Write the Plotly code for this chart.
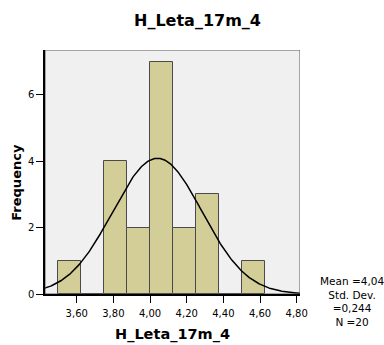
import numpy as np
import plotly.graph_objects as go

# Histogram bins (lower edges) and counts
bin_start = [3.500, 3.625, 3.750, 3.875, 4.000, 4.125, 4.250, 4.375, 4.500]
counts = [1, 0, 4, 2, 7, 2, 3, 0, 1]
bin_width = 0.125

# Summary statistics
mean = 4.04
std_dev = 0.244
n_obs = 20

x_ticks = [3.6, 3.8, 4.0, 4.2, 4.4, 4.6, 4.8]
x_tick_labels = ["3,60", "3,80", "4,00", "4,20", "4,40", "4,60", "4,80"]
y_ticks = [0, 2, 4, 6]
y_tick_labels = ["0", "2", "4", "6"]

variable_name = "H_Leta_17m_4"

centers = [b + bin_width / 2 for b in bin_start]

# Normal curve scaled to the histogram counts
xs = np.linspace(3.40, 4.84, 300)
ys = n_obs * bin_width / (std_dev * np.sqrt(2 * np.pi)) * np.exp(-0.5 * ((xs - mean) / std_dev) ** 2)

font = "DejaVu Sans, Verdana, sans-serif"

fig = go.Figure()
fig.add_trace(go.Bar(
    x=centers, y=counts, width=bin_width,
    marker=dict(color="#D3CE98", line=dict(color="#4A4A4A", width=1)),
    hoverinfo="skip",
))
fig.add_trace(go.Scatter(
    x=xs, y=ys, mode="lines",
    line=dict(color="black", width=1.5),
    hoverinfo="skip",
))

x_range = [3.427, 4.818]
y_range = [0, 7.35]

# Frame around the plot area
fig.add_shape(type="rect", xref="x", yref="y",
              x0=x_range[0], x1=x_range[1], y0=y_range[0], y1=y_range[1],
              line=dict(color="#5A5A5A", width=1), layer="above")

fig.update_layout(
    width=384, height=345,
    margin=dict(l=45, r=84, t=50, b=51),
    paper_bgcolor="white",
    plot_bgcolor="#F0F0F0",
    showlegend=False,
    bargap=0,
    font=dict(family=font, color="black", size=10),
)

fig.update_xaxes(
    range=x_range, tickvals=x_ticks, ticktext=x_tick_labels,
    showgrid=False, zeroline=False,
    showline=True, linecolor="black", linewidth=1.5,
    ticks="outside", ticklen=7, tickcolor="black", tickwidth=1,
    ticklabelstandoff=2,
    tickfont=dict(size=10, family=font),
)
fig.update_yaxes(
    range=y_range, tickvals=y_ticks, ticktext=y_tick_labels,
    showgrid=False, zeroline=False,
    showline=True, linecolor="black", linewidth=1.5,
    ticks="outside", ticklen=7, tickcolor="black", tickwidth=1,
    tickfont=dict(size=10, family=font),
)

# Chart title and axis titles
fig.add_annotation(text=f"<b>{variable_name}</b>", xref="paper", yref="paper",
                   x=0.598, y=1.119, xanchor="center", yanchor="middle",
                   showarrow=False, font=dict(size=16, family=font))
fig.add_annotation(text=f"<b>{variable_name}</b>", xref="paper", yref="paper",
                   x=0.5, y=-0.168, xanchor="center", yanchor="middle",
                   showarrow=False, font=dict(size=14.5, family=font))
fig.add_annotation(text="<b>Frequency</b>", xref="paper", yref="paper",
                   x=-0.11, y=0.46, xanchor="center", yanchor="middle",
                   textangle=-90, showarrow=False, font=dict(size=13, family=font))

def dec(v, digits):
    return f"{v:.{digits}f}".replace(".", ",")

stats_text = (f"Mean ={dec(mean, 2)}<br>Std. Dev.<br>"
              f"={dec(std_dev, 3)}<br>N ={n_obs}")
fig.add_annotation(
    text=stats_text, xref="paper", yref="paper",
    x=1.204, y=-0.029, xanchor="center", yanchor="middle",
    showarrow=False, align="center",
    font=dict(size=10.5, family=font),
)

fig.write_html("out.html")
